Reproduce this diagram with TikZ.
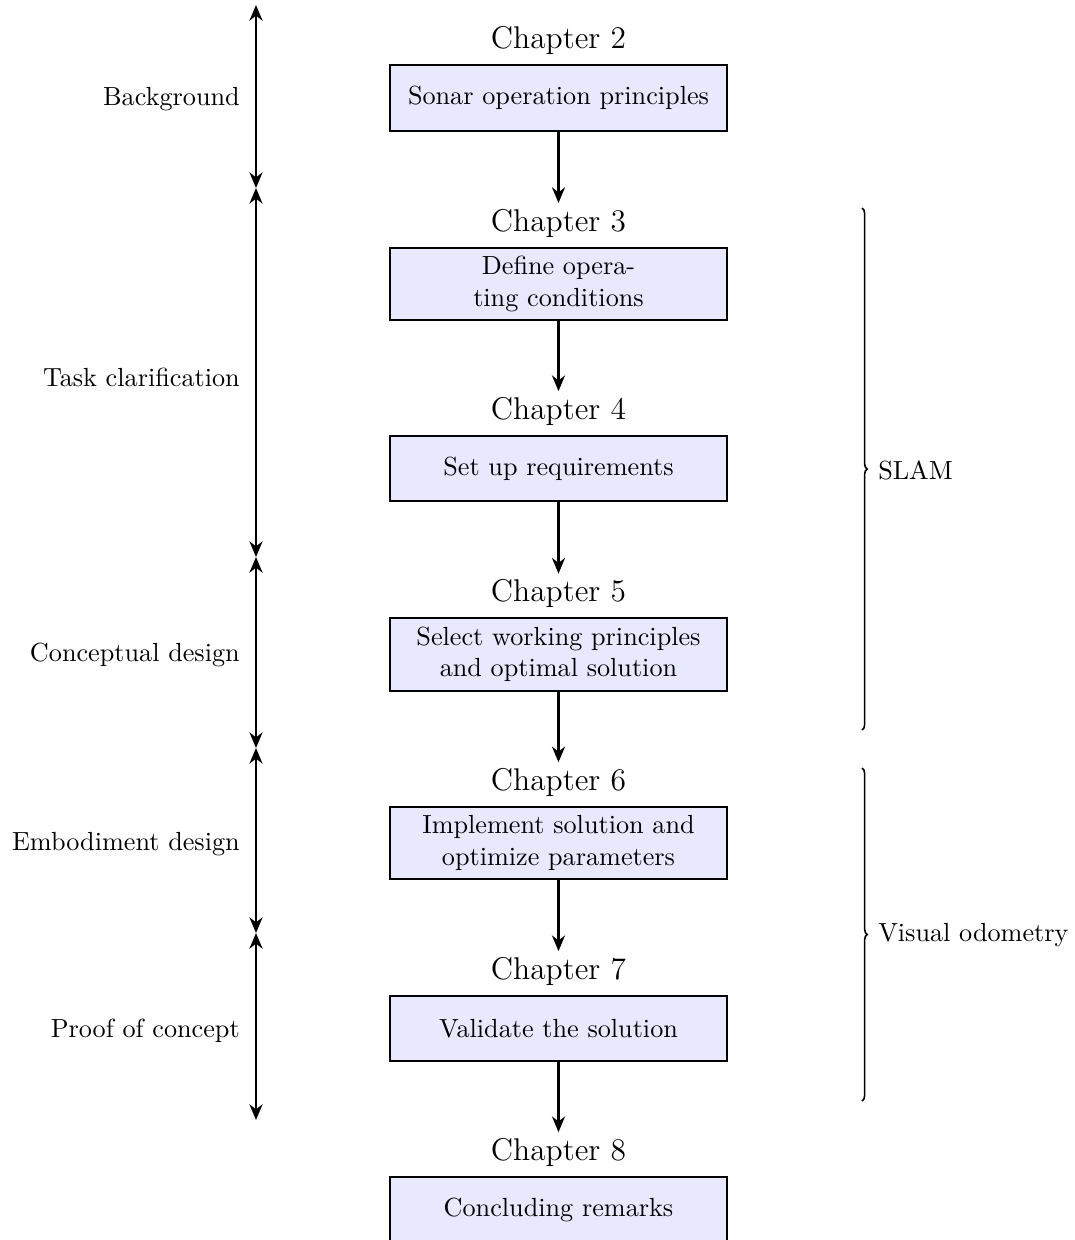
\documentclass[tikz,border=0pt]{standalone}
\usetikzlibrary{arrows.meta,decorations.pathreplacing}
\begin{document}
\begin{tikzpicture}[x=0.3817pt,y=-0.3817pt,
  box/.style={draw,thick,fill=blue!9,minimum width=128.6pt,minimum height=25pt,align=center,font=\normalsize},
  chap/.style={font=\large},
  flow/.style={-{Stealth[length=6pt,width=5pt]},thick,shorten >=-1.2pt},
  span/.style={{Stealth[length=6pt,width=5pt]}-{Stealth[length=6pt,width=5pt]},thick},
  phase/.style={anchor=east},
  brc/.style={decorate,decoration={brace,amplitude=2pt},semithick}]
\useasboundingbox (0,0) rectangle (1075,1240);
% boxes
\node[box] (b1) at (558.5,98) {Sonar operation principles};
\node[box] (b2) at (558.5,284) {Define opera-\\ting conditions};
\node[box] (b3) at (558.5,468.5) {Set up requirements};
\node[box] (b4) at (558.5,654.5) {Select working principles\\and optimal solution};
\node[box] (b5) at (558.5,843) {Implement solution and\\optimize parameters};
\node[box] (b6) at (558.5,1028.5) {Validate the solution};
\node[box] (b7) at (558.5,1209.5) {Concluding remarks};
% chapter labels
\node[chap,anchor=south] (c2) at (b1.north) {Chapter 2};
\node[chap,anchor=south] (c3) at (b2.north) {Chapter 3};
\node[chap,anchor=south] (c4) at (b3.north) {Chapter 4};
\node[chap,anchor=south] (c5) at (b4.north) {Chapter 5};
\node[chap,anchor=south] (c6) at (b5.north) {Chapter 6};
\node[chap,anchor=south] (c7) at (b6.north) {Chapter 7};
\node[chap,anchor=south] (c8) at (b7.north) {Chapter 8};
% flow arrows
\draw[flow] (b1.south) -- (c3.north);
\draw[flow] (b2.south) -- (c4.north);
\draw[flow] (b3.south) -- (c5.north);
\draw[flow] (b4.south) -- (c6.north);
\draw[flow] (b5.south) -- (c7.north);
\draw[flow] (b6.south) -- (c8.north);
% phase arrows
\coordinate (p0) at (256,5);
\coordinate (p1) at (256,188);
\coordinate (p2) at (256,557);
\coordinate (p3) at (256,748);
\coordinate (p4) at (256,933);
\coordinate (p5) at (256,1120);
\draw[span] (p0) -- (p1);
\draw[span] (p1) -- (p2);
\draw[span] (p2) -- (p3);
\draw[span] (p3) -- (p4);
\draw[span] (p4) -- (p5);
\node[phase] (l1) at (249,99) {Background};
\node[phase] (l2) at (249,377) {Task clarification};
\node[phase] (l3) at (249,655) {Conceptual design};
\node[phase] (l4) at (249,844) {Embodiment design};
\node[phase] (l5) at (249,1031) {Proof of concept};
% braces
\coordinate (s1) at (862,208);
\coordinate (s2) at (862,730);
\coordinate (v1) at (862,768);
\coordinate (v2) at (862,1101);
\draw[brc] (s1) -- (s2);
\draw[brc] (v1) -- (v2);
\node[anchor=west] (slam) at (869,470) {SLAM};
\node[anchor=west] (vo) at (869,935) {Visual odometry};
\end{tikzpicture}
\end{document}
